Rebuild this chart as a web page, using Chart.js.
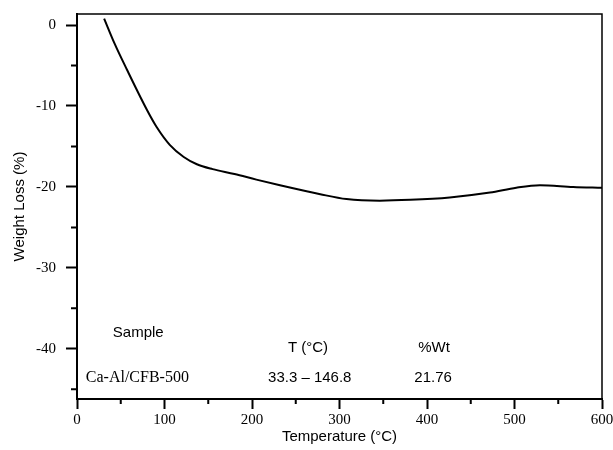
<!DOCTYPE html>
<html>
<head>
<meta charset="utf-8">
<script src="https://cdn.jsdelivr.net/npm/chart.js@4"></script>
<style>
  body { margin: 0; background: #fff; }
  canvas { display: block; }
</style>
</head>
<body>
<canvas id="tga" width="613" height="450"></canvas>
<script>
// TGA curve
const temps   = [31, 43, 57, 80, 91, 106, 122, 137, 155, 180, 205, 232, 278, 308, 346, 381, 426, 472, 502, 529, 567, 600];
const weights = [0.8, -2.3, -5.5, -10.5, -12.6, -14.8, -16.3, -17.2, -17.8, -18.4, -19.1, -19.8, -20.9, -21.5, -21.7, -21.6, -21.3, -20.7, -20.1, -19.8, -20.0, -20.1];

const xTicks = [0, 100, 200, 300, 400, 500, 600];
const yTicks = [0, -10, -20, -30, -40];
const xMinor = [50, 150, 250, 350, 450, 550];
const yMinor = [-5, -15, -25, -35, -45];

// table printed inside the plot
const tableTexts = ["Sample", "T (°C)", "%Wt", "Ca-Al/CFB-500", "33.3 – 146.8", "21.76"];
const tableX = [70, 264, 408, 69, 266, 407];
const tableY = [-38.0, -39.9, -39.9, -43.6, -43.6, -43.6];

const points = temps.map((t, i) => ({ x: t, y: weights[i] }));

const framePlugin = {
    id: "frame",
    afterDraw(chart) {
        const ctx = chart.ctx;
        const area = chart.chartArea;
        const xs = chart.scales.x;
        const ys = chart.scales.y;
        ctx.save();
        ctx.strokeStyle = "#000";
        ctx.lineWidth = 1.5;
        ctx.beginPath();
        ctx.moveTo(area.left, area.top);
        ctx.lineTo(area.right, area.top);
        ctx.lineTo(area.right, area.bottom);
        ctx.stroke();

        ctx.lineWidth = 2;
        ctx.beginPath();
        xMinor.forEach(v => {
            const px = xs.getPixelForValue(v);
            ctx.moveTo(px, area.bottom);
            ctx.lineTo(px, area.bottom + 5);
        });
        yMinor.forEach(v => {
            const py = ys.getPixelForValue(v);
            ctx.moveTo(area.left - 6, py);
            ctx.lineTo(area.left, py);
        });
        ctx.stroke();

        ctx.fillStyle = "#000";
        ctx.textAlign = "center";
        ctx.textBaseline = "middle";
        tableTexts.forEach((txt, i) => {
            ctx.font = txt === "Ca-Al/CFB-500" ? "16px 'Liberation Serif', 'Times New Roman', serif" : "15px 'Liberation Sans', Arial, sans-serif";
            ctx.fillText(txt, xs.getPixelForValue(tableX[i]), ys.getPixelForValue(tableY[i]));
        });
        ctx.restore();
    }
};

const tickFont = { family: "'Liberation Serif', 'Times New Roman', serif", size: 15 };
const titleFont = { family: "'Liberation Sans', Arial, sans-serif", size: 15 };

new Chart(document.getElementById("tga"), {
    type: "line",
    data: {
        datasets: [{
            data: points,
            borderColor: "#000",
            borderWidth: 2,
            pointRadius: 0,
            fill: false,
            cubicInterpolationMode: "monotone"
        }]
    },
    options: {
        responsive: false,
        animation: false,
        layout: { padding: { left: 0, top: 14, right: 11, bottom: 0 } },
        plugins: { legend: { display: false }, tooltip: { enabled: false } },
        scales: {
            x: {
                type: "linear",
                min: 0,
                max: 600,
                afterFit: s => { s.height = 51; s.paddingLeft = 0; s.paddingRight = 0; },
                afterBuildTicks: s => { s.ticks = xTicks.map(v => ({ value: v })); },
                ticks: { color: "#000", font: tickFont, padding: 2, maxRotation: 0 },
                grid: { drawOnChartArea: false, tickLength: 10, tickColor: "#000", tickWidth: 2 },
                border: { color: "#000", width: 2 },
                title: { display: true, text: "Temperature (°C)", color: "#000", font: titleFont, padding: { top: 0, bottom: 4 } }
            },
            y: {
                min: -46.2,
                max: 1.36,
                afterFit: s => { s.width = 77; s.paddingTop = 0; s.paddingBottom = 0; },
                afterBuildTicks: s => { s.ticks = yTicks.map(v => ({ value: v })); },
                ticks: { color: "#000", font: tickFont, padding: 10 },
                grid: { drawOnChartArea: false, tickLength: 11, tickColor: "#000", tickWidth: 2 },
                border: { color: "#000", width: 2 },
                title: { display: true, text: "Weight Loss (%)", color: "#000", font: titleFont, padding: { top: 11, bottom: 0 } }
            }
        }
    },
    plugins: [framePlugin]
});
</script>
</body>
</html>
